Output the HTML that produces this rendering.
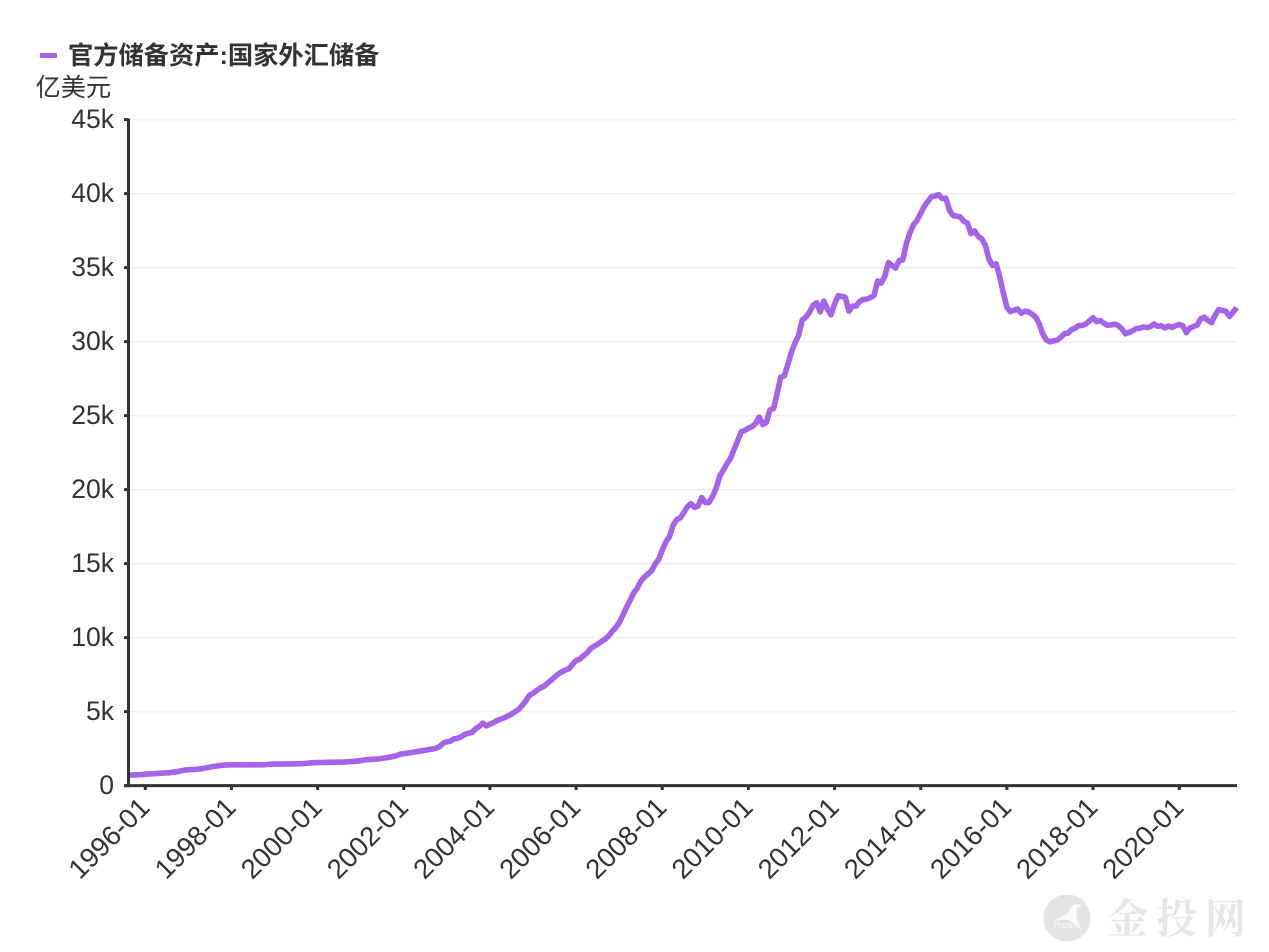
<!DOCTYPE html>
<html lang="zh">
<head>
<meta charset="utf-8">
<title>官方储备资产:国家外汇储备</title>
<style>
html,body{margin:0;padding:0;background:#fff;width:1269px;height:952px;overflow:hidden}
svg{display:block}
text{font-family:"Liberation Sans","Noto Sans CJK SC",sans-serif;fill:#333}
</style>
</head>
<body>
<svg id="chart" xmlns="http://www.w3.org/2000/svg" width="1269" height="952" viewBox="0 0 1269 952">
  <g>
    <rect x="40" y="53" width="17" height="5" rx="1" fill="#a463e8"></rect>
    <text x="68" y="64" font-size="25.25" font-weight="700">官方储备资产:国家外汇储备</text>
  </g>
  <text x="35.5" y="96" font-size="25.2">亿美元</text>
  <g id="grid"></g>
  <path id="line" fill="none" stroke="#a463e8" stroke-width="5.6" stroke-linejoin="round" stroke-linecap="butt"></path>
  <g id="axes"></g>
  <g>
    <circle cx="1067" cy="918" r="23.5" fill="#e4e4e4"></circle>
    <path d="M1053 921 C1060 916 1067 917 1071 908 C1073 903 1078 903 1082 906 L1077 908 C1075 915 1077 923 1082 930 C1076 926 1073 922 1068 920 C1063 919 1058 920 1053 921 Z" fill="#fbfbfb"></path>
    <text x="1053" y="928" font-size="7" style="fill:#fbfbfb">JT.CN</text>
    <text x="1107" y="933" font-size="41" font-weight="700" letter-spacing="8" style="fill:#e6e6e6;font-family:'Noto Serif CJK SC','Liberation Serif',serif">金投网</text>
  </g>
</svg>
<script>
const startYear = 1995;
const startMonth = 8;
const xTickLabels = ["1996-01","1998-01","2000-01","2002-01","2004-01","2006-01","2008-01","2010-01","2012-01","2014-01","2016-01","2018-01","2020-01"];
const yTickValues = [0,5000,10000,15000,20000,25000,30000,35000,40000,45000];
const yTickLabels = ["0","5k","10k","15k","20k","25k","30k","35k","40k","45k"];
const reserveValues = [
  700,710,720,730,736,
  780,790,800,815,830,845,860,880,915,950,1000,1050,
  1070,1085,1105,1120,1150,1205,1250,1290,1330,1360,1385,1399,
  1400,1404,1404,1400,1402,1405,1406,1404,1407,1411,1425,1450,
  1452,1455,1458,1460,1463,1465,1470,1480,1490,1510,1530,1547,
  1555,1560,1568,1570,1575,1580,1585,1590,1600,1620,1640,1656,
  1690,1730,1758,1770,1785,1800,1840,1880,1920,1960,2030,2122,
  2160,2190,2230,2270,2310,2350,2390,2430,2470,2530,2640,2864,
  2960,3000,3160,3200,3300,3465,3530,3600,3836,4000,4220,4033,
  4150,4260,4400,4490,4580,4705,4830,4990,5145,5420,5730,6099,
  6236,6426,6591,6700,6910,7110,7327,7530,7690,7800,7900,8189,
  8451,8536,8751,8950,9250,9411,9545,9720,9880,10096,10400,10663,
  11000,11500,12020,12500,13000,13326,13800,14086,14300,14500,14970,15282,
  15898,16471,16822,17566,17969,18088,18451,18841,19056,18800,18900,19460,
  19135,19120,19537,20089,20892,21316,21746,22108,22726,23300,23900,23992,
  24153,24247,24471,24905,24395,24543,25380,25480,26483,27603,27680,28473,
  29300,29914,30447,31464,31660,31975,32452,32625,32017,32738,32209,31811,
  32536,33100,33050,32989,32060,32400,32400,32730,32851,32870,32980,33116,
  34100,33950,34426,35340,35148,34967,35478,35530,36627,37360,37900,38213,
  38666,39137,39480,39788,39839,39932,39662,39688,38877,38529,38473,38430,
  38134,38015,37300,37481,37111,36938,36513,35573,35141,35255,34383,33304,
  32309,32023,32125,32197,31917,32052,32011,31851,31664,31206,30516,30105,
  29982,30051,30091,30295,30536,30568,30807,30915,31085,31092,31193,31399,
  31615,31345,31428,31249,31106,31121,31179,31097,30870,30531,30617,30727,
  30879,30902,30988,30950,31010,31192,31037,31072,30924,31052,30956,31079,
  31155,31067,30606,30915,31017,31123,31544,31646,31426,31280,31785,32165,
  32107,32048,31700,31980,32300
];

const SVG_NS = "http://www.w3.org/2000/svg";
const plot = {left:128.5, right:1237, top:119.6, bottom:785.6};
const yMax = 45000;
const monthStep = 3.59;
const x1996 = 145.3;

function categoryIndex(label){
  const parts = label.split("-");
  return (Number(parts[0]) - startYear) * 12 + Number(parts[1]) - startMonth;
}
const firstTickIndex = categoryIndex(xTickLabels[0]);
function xScale(i){ return x1996 + (i - firstTickIndex) * monthStep; }
function yScale(v){ return plot.bottom - (v / yMax) * (plot.bottom - plot.top); }
function el(tag, attrs){
  const node = document.createElementNS(SVG_NS, tag);
  for (const k in attrs) node.setAttribute(k, attrs[k]);
  return node;
}

const gridGroup = document.getElementById("grid");
const axesGroup = document.getElementById("axes");

yTickValues.forEach(function(v, i){
  const y = yScale(v);
  if (v > 0) {
    const g = el("line", {x1:plot.left, x2:plot.right, y1:y, y2:y, stroke:"#eeeeee", "stroke-width":1.5});
    
    
    gridGroup.appendChild(g);
  }
  const t = el("line", {x1:124, x2:plot.left, y1:y, y2:y, stroke:"#333", "stroke-width":3});
  
  
  axesGroup.appendChild(t);
  const lab = el("text", {x:114, y:y + 8.5, "text-anchor":"end", "font-size":26.5});
  
  
  lab.textContent = yTickLabels[i];
  axesGroup.appendChild(lab);
});

xTickLabels.forEach(function(label){
  const x = xScale(categoryIndex(label));
  const t = el("line", {x1:x, x2:x, y1:plot.bottom, y2:790, stroke:"#333", "stroke-width":3});
  
  
  axesGroup.appendChild(t);
  const lab = el("text", {x:x + 6, y:809, "text-anchor":"end", "font-size":27.5, transform:"rotate(-45 " + (x + 6) + " 809)"});
  
  
  lab.textContent = label;
  axesGroup.appendChild(lab);
});

const yAxisLine = el("line", {x1:plot.left, x2:plot.left, y1:plot.top - 1, y2:plot.bottom + 1.5, stroke:"#333", "stroke-width":3});


axesGroup.appendChild(yAxisLine);

const xAxisLine = el("line", {x1:124, x2:plot.right, y1:plot.bottom, y2:plot.bottom, stroke:"#333", "stroke-width":3});


axesGroup.appendChild(xAxisLine);

const linePath = reserveValues.map(function(v, i){
  return (i ? "L" : "M") + xScale(i).toFixed(2) + " " + yScale(v).toFixed(2);
}).join(" ");
document.getElementById("line").setAttribute("d", linePath);
</script>
</body>
</html>
